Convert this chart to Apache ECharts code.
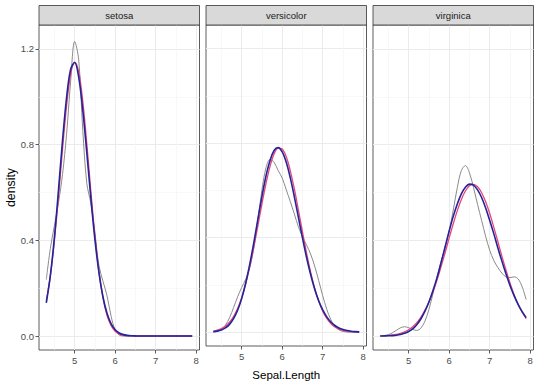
<!DOCTYPE html>
<html>
<head>
<meta charset="utf-8">
<script src="https://cdn.jsdelivr.net/npm/echarts@6/dist/echarts.min.js"></script>
<style>
html,body{margin:0;padding:0;background:#fff;}
#chart{width:540px;height:386px;}
</style>
</head>
<body>
<div id="chart"></div>
<script>
// ---- data ----
const species = ['setosa', 'versicolor', 'virginica'];
const xs = [4.3,4.4,4.5,4.6,4.7,4.8,4.9,5.0,5.1,5.2,5.3,5.4,5.5,5.6,5.7,5.8,5.9,6.0,6.1,6.2,6.3,6.4,6.5,6.6,6.7,6.8,6.9,7.0,7.1,7.2,7.3,7.4,7.5,7.6,7.7,7.8,7.9];
const xTicks = [5, 6, 7, 8];
const xMinorTicks = [4.5, 5.5, 6.5, 7.5];
const yTicks = [0, 0.4, 0.8, 1.2];
const yMinorTicks = [0.2, 0.6, 1.0];

// kernel density (grey)
const setosaDensity = [0.236,0.366,0.461,0.557,0.675,0.843,1.063,1.231,1.154,0.860,0.638,0.553,0.431,0.294,0.228,0.167,0.082,0.024,0.004,0.0003,0,0,0,0,0,0,0,0,0,0,0,0,0,0,0,0,0];
const versicolorDensity = [0.0011,0.0039,0.012,0.0297,0.0609,0.1038,0.1496,0.1891,0.2242,0.273,0.3566,0.4761,0.6021,0.6955,0.7311,0.719,0.6841,0.6525,0.6027,0.5528,0.5001,0.4459,0.4041,0.3693,0.3308,0.2803,0.2186,0.154,0.0966,0.0531,0.025,0.01,0.0033,0.0009,0.0002,0,0];
const virginicaDensity = [0.0006,0.0021,0.006,0.0135,0.0242,0.0343,0.0386,0.035,0.0273,0.0235,0.0327,0.0614,0.1113,0.1771,0.2471,0.3115,0.3717,0.4402,0.5263,0.6204,0.6916,0.7122,0.6819,0.6206,0.5499,0.4832,0.4161,0.3582,0.316,0.2863,0.2629,0.2472,0.244,0.2472,0.2388,0.2054,0.1517];

// fitted curve 1 (red)
const setosaFitRed = [0.147,0.252,0.399,0.581,0.779,0.961,1.093,1.145,1.104,0.981,0.802,0.604,0.419,0.268,0.158,0.085,0.043,0.020,0.008,0.003,0.001,0.0004,0.0001,0,0,0,0,0,0,0,0,0,0,0,0,0,0];
const versicolorFitRed = [0.0046,0.0085,0.015,0.0256,0.042,0.066,0.100,0.146,0.205,0.277,0.360,0.450,0.543,0.629,0.702,0.754,0.779,0.775,0.742,0.683,0.606,0.517,0.425,0.336,0.255,0.187,0.132,0.089,0.058,0.037,0.022,0.013,0.0072,0.0039,0.002,0.001,0.0005];
const virginicaFitRed = [0.00086,0.0015,0.0026,0.0043,0.0071,0.0112,0.0174,0.0263,0.0388,0.0558,0.0782,0.107,0.142,0.185,0.234,0.290,0.349,0.410,0.469,0.524,0.571,0.606,0.628,0.634,0.624,0.599,0.561,0.512,0.455,0.395,0.334,0.276,0.222,0.174,0.133,0.0993,0.0723];

// fitted curve 2 (blue)
const setosaFitBlue = [0.138,0.252,0.411,0.608,0.816,0.996,1.114,1.143,1.081,0.944,0.765,0.575,0.403,0.264,0.162,0.094,0.051,0.026,0.0125,0.0057,0.0025,0.001,0.0004,0.0001,0,0,0,0,0,0,0,0,0,0,0,0,0];
const versicolorFitBlue = [0.002,0.0044,0.0092,0.018,0.033,0.057,0.0925,0.142,0.208,0.288,0.379,0.478,0.574,0.661,0.727,0.769,0.781,0.763,0.719,0.653,0.573,0.486,0.399,0.317,0.245,0.183,0.133,0.094,0.0647,0.0432,0.0283,0.018,0.0112,0.0068,0.004,0.0024,0.0014];
const virginicaFitBlue = [0.00016,0.0004,0.0008,0.0017,0.0033,0.0062,0.011,0.0187,0.030,0.0475,0.071,0.1026,0.142,0.190,0.244,0.307,0.373,0.439,0.500,0.552,0.594,0.622,0.635,0.631,0.611,0.579,0.535,0.483,0.428,0.369,0.313,0.260,0.211,0.169,0.132,0.1016,0.0768];

const densities = [setosaDensity, versicolorDensity, virginicaDensity];
const fitsRed = [setosaFitRed, versicolorFitRed, virginicaFitRed];
const fitsBlue = [setosaFitBlue, versicolorFitBlue, virginicaFitBlue];

// ---- layout / style ----
const FONT = 'Liberation Sans, Arial, Helvetica, sans-serif';
const panelLefts = [39, 206, 373];
const panelWidth = 160.5;
const panelTop = 25;
const panelHeight = 325;
const stripTop = 5.5;
const X_MIN = 4.12, X_MAX = 8.08, Y_MIN = -0.0585, Y_MAX = 1.30;

const grids = [], xAxes = [], yAxes = [], series = [], graphics = [];
const pair = (vals) => xs.map((x, i) => [x, vals[i]]);

species.forEach((name, i) => {
  grids.push({
    left: panelLefts[i], top: panelTop, width: panelWidth, height: panelHeight,
    show: true, backgroundColor: '#fff', borderColor: '#333333', borderWidth: 0.8, containLabel: false
  });
  // main x axis
  xAxes.push({
    gridIndex: i, type: 'value', min: X_MIN, max: X_MAX, position: 'bottom',
    axisLine: { show: false, onZero: false },
    axisTick: { show: true, length: 3.5, customValues: xTicks, lineStyle: { color: '#333333', width: 0.8 } },
    axisLabel: { show: true, customValues: xTicks, color: '#4D4D4D', fontSize: 9.5, margin: 5, fontFamily: FONT },
    splitLine: { show: true, lineStyle: { color: '#EBEBEB', width: 1 } },
    name: i === 1 ? 'Sepal.Length' : '', nameLocation: 'middle', nameGap: 23,
    nameTextStyle: { color: '#000', fontSize: 11.5, fontFamily: FONT }
  });
  // minor x axis
  xAxes.push({
    gridIndex: i, type: 'value', min: X_MIN, max: X_MAX, position: 'bottom',
    axisLine: { show: false, onZero: false },
    axisTick: { show: false, customValues: xMinorTicks },
    axisLabel: { show: false, customValues: xMinorTicks },
    splitLine: { show: true, lineStyle: { color: '#F4F4F4', width: 0.6 } }
  });
  // main y axis
  yAxes.push({
    gridIndex: i, type: 'value', min: Y_MIN, max: Y_MAX, position: 'left',
    axisLine: { show: false, onZero: false },
    axisTick: { show: i === 0, length: 3.5, customValues: yTicks, lineStyle: { color: '#333333', width: 0.8 } },
    axisLabel: { show: i === 0, customValues: yTicks, color: '#4D4D4D', fontSize: 9.5, margin: 5, fontFamily: FONT,
      formatter: (v) => Number(v).toFixed(1) },
    splitLine: { show: true, lineStyle: { color: '#EBEBEB', width: 1 } },
    name: i === 0 ? 'density' : '', nameLocation: 'middle', nameGap: 20, nameRotate: 90,
    nameTextStyle: { color: '#000', fontSize: 12.3, fontFamily: FONT }
  });
  // minor y axis
  yAxes.push({
    gridIndex: i, type: 'value', min: Y_MIN, max: Y_MAX, position: 'left', offset: 0,
    axisLine: { show: false, onZero: false },
    axisTick: { show: false, customValues: yMinorTicks },
    axisLabel: { show: false, customValues: yMinorTicks },
    splitLine: { show: true, lineStyle: { color: '#F4F4F4', width: 0.6 } }
  });

  const common = { type: 'line', xAxisIndex: 2 * i, yAxisIndex: 2 * i, showSymbol: false, smooth: 0.35, silent: true, animation: false };
  series.push(Object.assign({}, common, { name: name + ' density', data: pair(densities[i]), lineStyle: { color: '#8A8A8A', width: 1 }, z: 2 }));
  series.push(Object.assign({}, common, { name: name + ' fit red', data: pair(fitsRed[i]), lineStyle: { color: '#E8437A', width: 1.3 }, z: 3 }));
  series.push(Object.assign({}, common, { name: name + ' fit blue', data: pair(fitsBlue[i]), lineStyle: { color: '#23239A', width: 1.6 }, z: 4 }));

  // facet strip
  graphics.push({
    type: 'rect', shape: { x: panelLefts[i], y: stripTop, width: panelWidth, height: panelTop - stripTop },
    style: { fill: '#D9D9D9', stroke: '#333333', lineWidth: 0.8 }, z: 10
  });
  graphics.push({
    type: 'text', x: panelLefts[i] + panelWidth / 2, y: (stripTop + panelTop) / 2,
    style: { text: name, fill: '#1A1A1A', fontSize: 9.5, fontFamily: FONT, align: 'center', verticalAlign: 'middle' }, z: 11
  });
});

const chart = echarts.init(document.getElementById('chart'), null, { renderer: 'svg', width: 540, height: 386 });
chart.setOption({
  backgroundColor: '#ffffff',
  animation: false,
  grid: grids,
  xAxis: xAxes,
  yAxis: yAxes,
  series: series,
  graphic: graphics
});
</script>
</body>
</html>
